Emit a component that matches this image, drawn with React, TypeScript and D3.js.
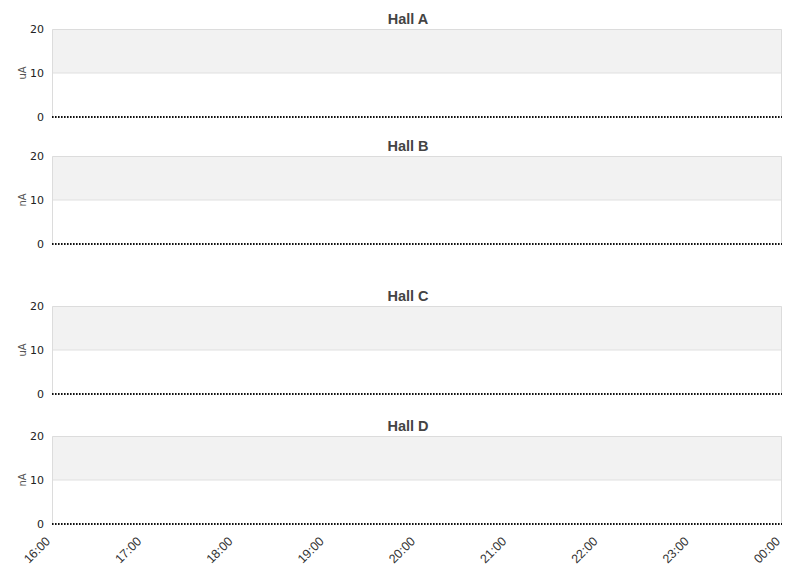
import React from 'react';
import * as d3 from 'd3';

const halls: string[] = ['Hall A', 'Hall B', 'Hall C', 'Hall D'];
const units: string[] = ['uA', 'nA', 'uA', 'nA'];
const panelTops: number[] = [29, 156, 306, 436];
const sampleTimes: string[] = ['2020-01-01T16:00', '2020-01-02T00:00'];
const sampleValues: number[][] = [[0, 0], [0, 0], [0, 0], [0, 0]];
const yTicks: number[] = [0, 10, 20];
const xTickLabels: string[] = ['16:00', '17:00', '18:00', '19:00', '20:00', '21:00', '22:00', '23:00', '00:00'];

const width = 811;
const height = 578;
const left = 52;
const right = 782;
const panelHeight = 88;

function App() {
    const parse = d3.timeParse('%Y-%m-%dT%H:%M');
    const times = sampleTimes.map((t) => parse(t) as Date);
    const x = d3.scaleTime()
        .domain([times[0], times[times.length - 1]])
        .range([left, right]);
    const xTicks = d3.timeHour.every(1)!.range(times[0], d3.timeMinute.offset(times[1], 1));
    const lastTop = panelTops[panelTops.length - 1];

    return (
        <svg width={width} height={height} style={{ display: 'block', position: 'absolute', left: 0, top: 0 }}>
            <rect width={width} height={height} fill="#fff" />
            {halls.map((hall, i) => {
                const top = panelTops[i];
                const y = d3.scaleLinear().domain([0, 20]).range([top + panelHeight, top]);
                const line = d3.line<number>()
                    .x((_, j) => x(times[j]))
                    .y((v) => y(v));
                return (
                    <g key={hall}>
                        <rect x={left} y={y(20)} width={right - left} height={y(10) - y(20)} fill="#f2f2f2" />
                        <line x1={left} x2={right} y1={y(10)} y2={y(10)} stroke="#e0e0e0" />
                        <path
                            d={`M${left + 0.5},${y(0)}V${y(20) + 0.5}H${right - 0.5}V${y(0)}`}
                            fill="none" stroke="#dcdcdc" strokeWidth={1}
                        />
                        <text x={408} y={top - 5} textAnchor="middle"
                            fontFamily="Liberation Sans, Arial, sans-serif" fontWeight="bold" fontSize={14.5} fill="#444">
                            {hall}
                        </text>
                        {yTicks.map((t) => (
                            <text key={t} x={44} y={y(t) + 4} textAnchor="end"
                                fontFamily="DejaVu Sans, sans-serif" fontSize={11} fill="#222">
                                {t}
                            </text>
                        ))}
                        <text transform={`translate(26,${y(10)}) rotate(-90)`} textAnchor="middle"
                            fontFamily="DejaVu Sans, sans-serif" fontSize={10} fill="#555">
                            {units[i]}
                        </text>
                        <path d={line(sampleValues[i]) ?? ''} fill="none" stroke="#111"
                            strokeWidth={2} strokeDasharray="1.6,1.4" />
                    </g>
                );
            })}
            {xTicks.map((t, k) => (
                <text key={k} transform={`translate(${x(t) - 1},${lastTop + panelHeight + 18}) rotate(-45)`}
                    textAnchor="end" fontFamily="Liberation Sans, Arial, sans-serif" fontSize={12.5} fill="#333">
                    {xTickLabels[k]}
                </text>
            ))}
        </svg>
    );
}

export default App;
